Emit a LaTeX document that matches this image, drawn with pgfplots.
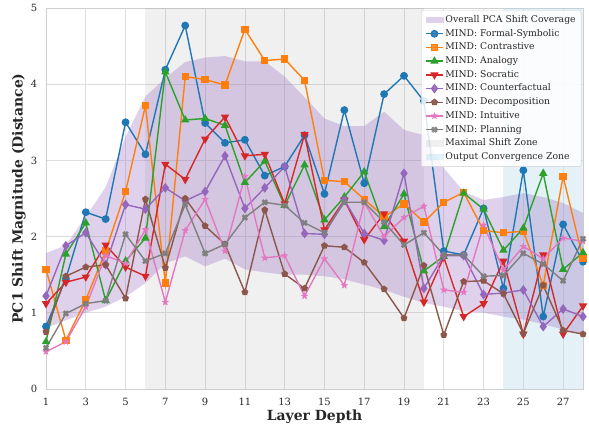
\documentclass[border=0pt]{standalone}
\usepackage{pgfplots}
\pgfplotsset{compat=1.18}
\usepackage{pgfplotstable}
\usepackage{fontspec}
\setmainfont{DejaVu Serif}

\definecolor{cFS}{HTML}{1F77B4}
\definecolor{cCO}{HTML}{FF7F0E}
\definecolor{cAN}{HTML}{2CA02C}
\definecolor{cSO}{HTML}{D62728}
\definecolor{cCF}{HTML}{9467BD}
\definecolor{cDE}{HTML}{8C564B}
\definecolor{cIN}{HTML}{E377C2}
\definecolor{cPL}{HTML}{7F7F7F}
\definecolor{gridc}{HTML}{DEDEDE}
\definecolor{spinec}{HTML}{CFCFCF}
\definecolor{textc}{HTML}{262626}
\definecolor{zoneg}{HTML}{808080}
\definecolor{zoneb}{HTML}{ADD8E6}

\pgfdeclareplotmark{fstar}{%
  \pgfpathmoveto{\pgfpointpolar{90}{1.25\pgfplotmarksize}}%
  \pgfpathlineto{\pgfpointpolar{126}{0.5\pgfplotmarksize}}%
  \pgfpathlineto{\pgfpointpolar{162}{1.25\pgfplotmarksize}}%
  \pgfpathlineto{\pgfpointpolar{198}{0.5\pgfplotmarksize}}%
  \pgfpathlineto{\pgfpointpolar{234}{1.25\pgfplotmarksize}}%
  \pgfpathlineto{\pgfpointpolar{270}{0.5\pgfplotmarksize}}%
  \pgfpathlineto{\pgfpointpolar{306}{1.25\pgfplotmarksize}}%
  \pgfpathlineto{\pgfpointpolar{342}{0.5\pgfplotmarksize}}%
  \pgfpathlineto{\pgfpointpolar{18}{1.25\pgfplotmarksize}}%
  \pgfpathlineto{\pgfpointpolar{54}{0.5\pgfplotmarksize}}%
  \pgfpathclose\pgfusepathqfillstroke}

\pgfdeclareplotmark{fX}{%
  \pgftransformrotate{45}%
  \pgfpathmoveto{\pgfpoint{-0.38\pgfplotmarksize}{1.05\pgfplotmarksize}}%
  \pgfpathlineto{\pgfpoint{0.38\pgfplotmarksize}{1.05\pgfplotmarksize}}%
  \pgfpathlineto{\pgfpoint{0.38\pgfplotmarksize}{0.38\pgfplotmarksize}}%
  \pgfpathlineto{\pgfpoint{1.05\pgfplotmarksize}{0.38\pgfplotmarksize}}%
  \pgfpathlineto{\pgfpoint{1.05\pgfplotmarksize}{-0.38\pgfplotmarksize}}%
  \pgfpathlineto{\pgfpoint{0.38\pgfplotmarksize}{-0.38\pgfplotmarksize}}%
  \pgfpathlineto{\pgfpoint{0.38\pgfplotmarksize}{-1.05\pgfplotmarksize}}%
  \pgfpathlineto{\pgfpoint{-0.38\pgfplotmarksize}{-1.05\pgfplotmarksize}}%
  \pgfpathlineto{\pgfpoint{-0.38\pgfplotmarksize}{-0.38\pgfplotmarksize}}%
  \pgfpathlineto{\pgfpoint{-1.05\pgfplotmarksize}{-0.38\pgfplotmarksize}}%
  \pgfpathlineto{\pgfpoint{-1.05\pgfplotmarksize}{0.38\pgfplotmarksize}}%
  \pgfpathlineto{\pgfpoint{-0.38\pgfplotmarksize}{0.38\pgfplotmarksize}}%
  \pgfpathclose\pgfusepathqfillstroke}

\pgfplotstableread{
L FS CO AN SO CF DE IN PL
1 0.82 1.57 0.62 1.12 1.22 0.75 0.49 0.54
2 1.45 0.64 1.77 1.40 1.88 1.48 0.62 0.99
3 2.32 1.17 2.18 1.47 2.05 1.60 1.08 1.12
4 2.23 1.81 1.16 1.89 1.63 1.63 1.75 1.16
5 3.50 2.59 1.68 1.60 2.42 1.19 1.65 2.03
6 3.08 3.72 1.98 1.48 2.36 2.49 2.09 1.68
7 4.19 1.39 4.16 2.95 2.64 1.59 1.14 1.78
8 4.77 4.10 3.53 2.75 2.47 2.50 2.08 2.42
9 3.49 4.06 3.55 3.28 2.59 2.14 2.49 1.78
10 3.23 3.99 3.46 3.57 3.06 1.90 1.81 1.90
11 3.27 4.72 2.71 3.06 2.37 1.27 2.79 2.25
12 2.80 4.31 2.99 3.08 2.64 2.35 1.72 2.45
13 2.92 4.33 2.41 2.43 2.92 1.51 1.75 2.41
14 3.33 4.05 2.94 3.34 2.04 1.32 1.22 2.18
15 2.56 2.74 2.22 2.09 2.03 1.88 1.71 2.05
16 3.66 2.72 2.52 2.48 2.48 1.86 1.36 2.45
17 2.70 2.49 2.85 1.96 2.04 1.66 2.45 2.45
18 3.87 2.26 2.13 2.30 1.95 1.31 2.00 2.19
19 4.11 2.43 2.56 1.94 2.83 0.93 2.25 1.89
20 3.78 2.19 1.55 1.14 1.32 1.62 2.40 2.05
21 1.81 2.45 1.74 1.73 1.75 0.71 1.30 1.76
22 1.76 2.58 2.57 0.95 1.75 1.41 1.27 1.76
23 2.37 2.08 2.36 1.12 1.24 1.42 2.15 1.48
24 1.32 2.05 1.82 1.68 1.26 1.25 1.56 1.49
25 2.87 2.07 2.11 0.72 1.30 0.73 1.87 1.78
26 0.95 1.36 2.83 1.76 0.82 1.36 1.71 1.64
27 2.16 2.79 1.57 0.72 1.05 0.77 1.98 1.42
28 1.67 1.71 1.79 1.09 0.95 0.72 1.94 1.97
}\datatable

\begin{document}
\begin{tikzpicture}
\begin{axis}[
  scale only axis, width=537bp, height=381bp,
  xmin=1, xmax=28, ymin=0, ymax=5,
  xtick={1,3,...,27}, ytick={0,1,2,3,4,5},
  grid=major, major grid style={color=gridc, line width=0.7pt},
  axis line style={color=spinec, line width=0.9pt},
  tick style={draw=none},
  /pgf/number format/assume math mode=true,
  ticklabel style={font=\fontsize{10}{12}\selectfont, text=textc},
  xticklabel style={anchor=center, yshift=-13bp},
  yticklabel style={anchor=east, inner sep=0pt, xshift=-8.5bp},
  xlabel={\textbf{Layer Depth}},
  ylabel={\textbf{PC1 Shift Magnitude (Distance)}},
  every axis x label/.style={at={(rel axis cs:0.5,0)}, anchor=center, yshift=-28bp,
     font=\fontsize{14}{16}\selectfont, text=textc},
  every axis y label/.style={at={(rel axis cs:0,0.5)}, anchor=center, rotate=90, yshift=27bp,
     font=\fontsize{14}{16}\selectfont, text=textc},
  every axis plot/.append style={line width=1.4pt},
  mark size=3.2pt,
  legend image post style={sharp corners},
  legend style={at={(0.997,0.994)}, anchor=north east,
    font=\fontsize{9.3}{10}\selectfont, text=textc,
    draw=spinec, rounded corners=2pt, fill=white, fill opacity=0.85, text opacity=1,
    nodes={inner sep=0pt, inner xsep=1.5bp, text height=7bp, text depth=2.2bp},
    row sep=4.5bp, column sep=0bp, inner xsep=4bp, inner ysep=5bp,
    cells={anchor=west}},
  legend cell align=left,
]
% zones
\addplot[draw=none, fill=zoneg, fill opacity=0.12, forget plot] coordinates {(6,0) (20,0) (20,5) (6,5)} -- cycle;
\addplot[draw=none, fill=zoneb, fill opacity=0.33, forget plot] coordinates {(24,0) (28,0) (28,5) (24,5)} -- cycle;
% coverage band
\addplot[draw=none, fill=cCF, fill opacity=0.3,
  legend image code/.code={\fill[cCF, fill opacity=0.3, sharp corners] (0bp,-3.3bp) rectangle (18bp,3.3bp);}] coordinates {
(1,1.78) (2,1.89) (3,2.26) (4,2.65) (5,3.31) (6,3.84) (7,4.08) (8,4.29) (9,4.35) (10,4.37)
(11,4.30) (12,4.30) (13,4.10) (14,3.83) (15,3.55) (16,3.45) (17,3.45) (18,3.64) (19,3.40) (20,3.33)
(21,2.90) (22,2.59) (23,2.48) (24,2.52) (25,2.57) (26,2.52) (27,2.44) (28,2.31)
(28,0.72) (27,0.78) (26,0.85) (25,0.91) (24,0.95) (23,1.00) (22,1.02) (21,1.08) (20,1.13) (19,1.21)
(18,1.30) (17,1.37) (16,1.44) (15,1.48) (14,1.50) (13,1.50) (12,1.53) (11,1.57) (10,1.71) (9,1.61)
(8,1.74) (7,1.65) (6,1.39) (5,1.21) (4,1.08) (3,1.00) (2,0.90) (1,0.80)
} -- cycle;
\addlegendentry{Overall PCA Shift Coverage}

\addplot[color=cFS, mark=*, mark options={fill=cFS}] table[x=L, y=FS] {\datatable};
\addlegendentry{MIND: Formal-Symbolic}
\addplot[color=cCO, mark=square*, mark size=3pt, mark options={fill=cCO}] table[x=L, y=CO] {\datatable};
\addlegendentry{MIND: Contrastive}
\addplot[color=cAN, mark=triangle*, mark size=3.5pt, mark options={fill=cAN}] table[x=L, y=AN] {\datatable};
\addlegendentry{MIND: Analogy}
\addplot[color=cSO, mark=triangle*, mark size=3.5pt, mark options={fill=cSO, rotate=180}] table[x=L, y=SO] {\datatable};
\addlegendentry{MIND: Socratic}
\addplot[color=cCF, mark=diamond*, mark size=3.8pt, mark options={fill=cCF}] table[x=L, y=CF] {\datatable};
\addlegendentry{MIND: Counterfactual}
\addplot[color=cDE, mark=pentagon*, mark size=2.8pt, mark options={fill=cDE}] table[x=L, y=DE] {\datatable};
\addlegendentry{MIND: Decomposition}
\addplot[color=cIN, mark=fstar, mark size=2.8pt, mark options={fill=cIN, line width=0.3pt}] table[x=L, y=IN] {\datatable};
\addlegendentry{MIND: Intuitive}
\addplot[color=cPL, mark=fX, mark size=2.9pt, mark options={fill=cPL, line width=0.3pt}] table[x=L, y=PL] {\datatable};
\addlegendentry{MIND: Planning}

% legend-only entries for the zones (single invisible point each)
\addplot[draw=none, mark=none,
  legend image code/.code={\fill[zoneg, fill opacity=0.12, sharp corners] (0bp,-3.3bp) rectangle (18bp,3.3bp);}] coordinates {(6,0)};
\addlegendentry{Maximal Shift Zone}
\addplot[draw=none, mark=none,
  legend image code/.code={\fill[zoneb, fill opacity=0.33, sharp corners] (0bp,-3.3bp) rectangle (18bp,3.3bp);}] coordinates {(24,0)};
\addlegendentry{Output Convergence Zone}

\coordinate (ll) at (rel axis cs:0,0);
\coordinate (ur) at (rel axis cs:1,1);
\end{axis}
\pgfresetboundingbox
\path[use as bounding box] ([xshift=-46bp,yshift=-41bp]ll) rectangle ([xshift=6bp,yshift=8bp]ur);
\end{tikzpicture}
\end{document}
